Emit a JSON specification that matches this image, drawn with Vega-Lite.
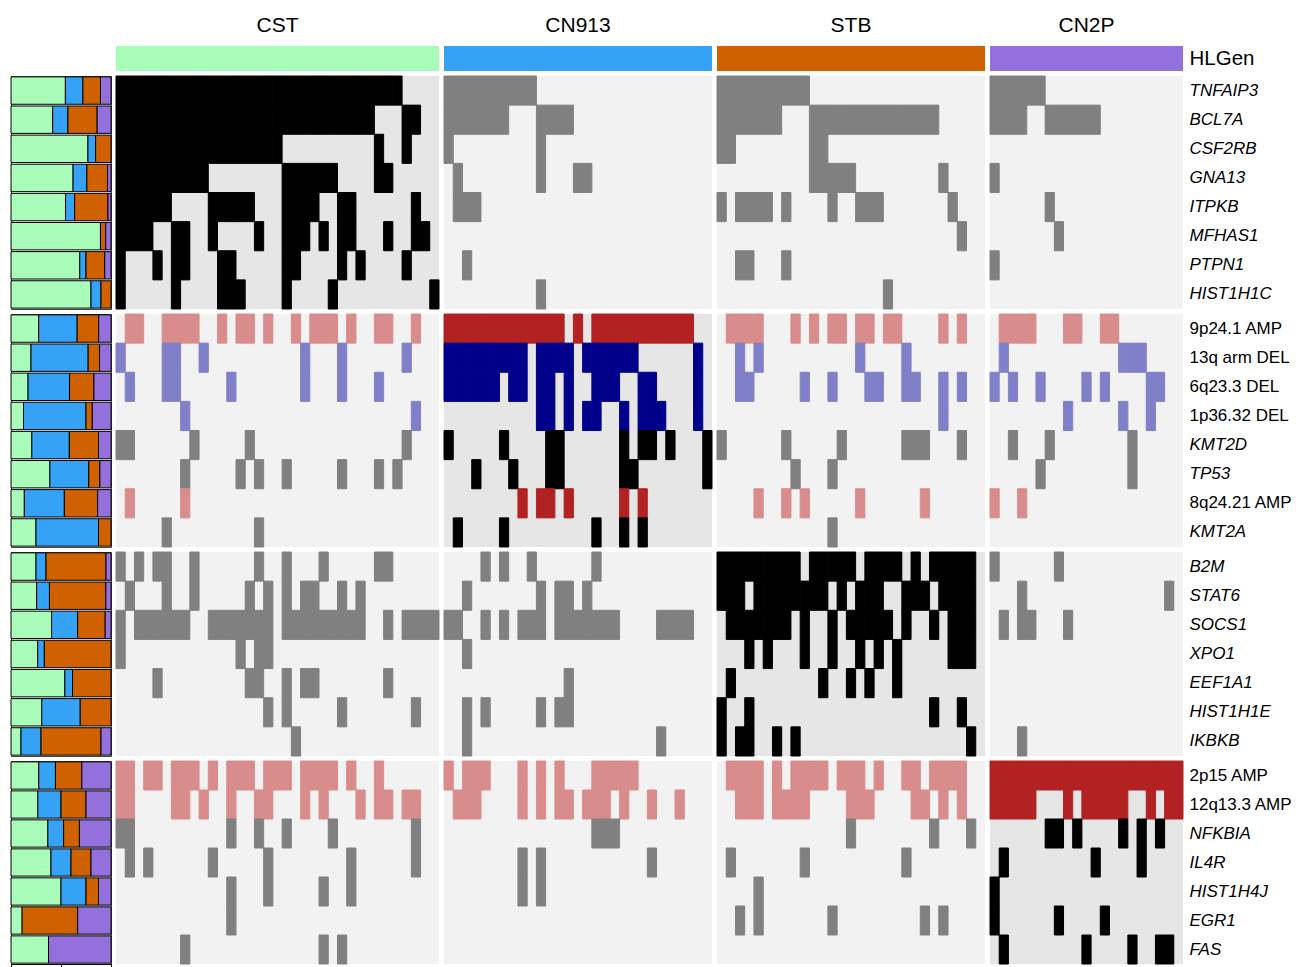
{
"$schema":"https://vega.github.io/schema/vega-lite/v6.json",
"padding":{"left":10,"top":15,"right":0,"bottom":0},
"config":{"view":{"stroke":null},"font":"Liberation Sans","rect":{"strokeWidth":1}},
"datasets":{
"cna":[{"g":"9p24.1 AMP","t":"Amp"},{"g":"8q24.21 AMP","t":"Amp"},{"g":"2p15 AMP","t":"Amp"},{"g":"12q13.3 AMP","t":"Amp"},{"g":"13q arm DEL","t":"Del"},{"g":"6q23.3 DEL","t":"Del"},{"g":"1p36.32 DEL","t":"Del"}],
"clusters":[{"c":"CST","k":0},{"c":"CN913","k":1},{"c":"STB","k":2},{"c":"CN2P","k":3}],
"cells":[
{"c":"CST","g":"TNFAIP3","s":1},{"c":"CST","g":"TNFAIP3","s":2},{"c":"CST","g":"TNFAIP3","s":3},{"c":"CST","g":"TNFAIP3","s":4},{"c":"CST","g":"TNFAIP3","s":5},{"c":"CST","g":"TNFAIP3","s":6},{"c":"CST","g":"TNFAIP3","s":7},{"c":"CST","g":"TNFAIP3","s":8},{"c":"CST","g":"TNFAIP3","s":9},{"c":"CST","g":"TNFAIP3","s":10},{"c":"CST","g":"TNFAIP3","s":11},{"c":"CST","g":"TNFAIP3","s":12},{"c":"CST","g":"TNFAIP3","s":13},{"c":"CST","g":"TNFAIP3","s":14},{"c":"CST","g":"TNFAIP3","s":15},{"c":"CST","g":"TNFAIP3","s":16},{"c":"CST","g":"TNFAIP3","s":17},{"c":"CST","g":"TNFAIP3","s":18},{"c":"CST","g":"TNFAIP3","s":19},{"c":"CST","g":"TNFAIP3","s":20},{"c":"CST","g":"TNFAIP3","s":21},{"c":"CST","g":"TNFAIP3","s":22},{"c":"CST","g":"TNFAIP3","s":23},{"c":"CST","g":"TNFAIP3","s":24},{"c":"CST","g":"TNFAIP3","s":25},{"c":"CST","g":"TNFAIP3","s":26},{"c":"CST","g":"TNFAIP3","s":27},{"c":"CST","g":"TNFAIP3","s":28},{"c":"CST","g":"TNFAIP3","s":29},{"c":"CST","g":"TNFAIP3","s":30},{"c":"CST","g":"TNFAIP3","s":31},
{"c":"CST","g":"BCL7A","s":1},{"c":"CST","g":"BCL7A","s":2},{"c":"CST","g":"BCL7A","s":3},{"c":"CST","g":"BCL7A","s":4},{"c":"CST","g":"BCL7A","s":5},{"c":"CST","g":"BCL7A","s":6},{"c":"CST","g":"BCL7A","s":7},{"c":"CST","g":"BCL7A","s":8},{"c":"CST","g":"BCL7A","s":9},{"c":"CST","g":"BCL7A","s":10},{"c":"CST","g":"BCL7A","s":11},{"c":"CST","g":"BCL7A","s":12},{"c":"CST","g":"BCL7A","s":13},{"c":"CST","g":"BCL7A","s":14},{"c":"CST","g":"BCL7A","s":15},{"c":"CST","g":"BCL7A","s":16},{"c":"CST","g":"BCL7A","s":17},{"c":"CST","g":"BCL7A","s":18},{"c":"CST","g":"BCL7A","s":19},{"c":"CST","g":"BCL7A","s":20},{"c":"CST","g":"BCL7A","s":21},{"c":"CST","g":"BCL7A","s":22},{"c":"CST","g":"BCL7A","s":23},{"c":"CST","g":"BCL7A","s":24},{"c":"CST","g":"BCL7A","s":25},{"c":"CST","g":"BCL7A","s":26},{"c":"CST","g":"BCL7A","s":27},{"c":"CST","g":"BCL7A","s":28},{"c":"CST","g":"BCL7A","s":32},{"c":"CST","g":"BCL7A","s":33},
{"c":"CST","g":"CSF2RB","s":1},{"c":"CST","g":"CSF2RB","s":2},{"c":"CST","g":"CSF2RB","s":3},{"c":"CST","g":"CSF2RB","s":4},{"c":"CST","g":"CSF2RB","s":5},{"c":"CST","g":"CSF2RB","s":6},{"c":"CST","g":"CSF2RB","s":7},{"c":"CST","g":"CSF2RB","s":8},{"c":"CST","g":"CSF2RB","s":9},{"c":"CST","g":"CSF2RB","s":10},{"c":"CST","g":"CSF2RB","s":11},{"c":"CST","g":"CSF2RB","s":12},{"c":"CST","g":"CSF2RB","s":13},{"c":"CST","g":"CSF2RB","s":14},{"c":"CST","g":"CSF2RB","s":15},{"c":"CST","g":"CSF2RB","s":16},{"c":"CST","g":"CSF2RB","s":17},{"c":"CST","g":"CSF2RB","s":18},{"c":"CST","g":"CSF2RB","s":29},{"c":"CST","g":"CSF2RB","s":32},
{"c":"CST","g":"GNA13","s":1},{"c":"CST","g":"GNA13","s":2},{"c":"CST","g":"GNA13","s":3},{"c":"CST","g":"GNA13","s":4},{"c":"CST","g":"GNA13","s":5},{"c":"CST","g":"GNA13","s":6},{"c":"CST","g":"GNA13","s":7},{"c":"CST","g":"GNA13","s":8},{"c":"CST","g":"GNA13","s":9},{"c":"CST","g":"GNA13","s":10},{"c":"CST","g":"GNA13","s":19},{"c":"CST","g":"GNA13","s":20},{"c":"CST","g":"GNA13","s":21},{"c":"CST","g":"GNA13","s":22},{"c":"CST","g":"GNA13","s":23},{"c":"CST","g":"GNA13","s":24},{"c":"CST","g":"GNA13","s":29},{"c":"CST","g":"GNA13","s":30},
{"c":"CST","g":"ITPKB","s":1},{"c":"CST","g":"ITPKB","s":2},{"c":"CST","g":"ITPKB","s":3},{"c":"CST","g":"ITPKB","s":4},{"c":"CST","g":"ITPKB","s":5},{"c":"CST","g":"ITPKB","s":6},{"c":"CST","g":"ITPKB","s":11},{"c":"CST","g":"ITPKB","s":12},{"c":"CST","g":"ITPKB","s":13},{"c":"CST","g":"ITPKB","s":14},{"c":"CST","g":"ITPKB","s":15},{"c":"CST","g":"ITPKB","s":19},{"c":"CST","g":"ITPKB","s":20},{"c":"CST","g":"ITPKB","s":21},{"c":"CST","g":"ITPKB","s":22},{"c":"CST","g":"ITPKB","s":25},{"c":"CST","g":"ITPKB","s":26},{"c":"CST","g":"ITPKB","s":33},
{"c":"CST","g":"MFHAS1","s":1},{"c":"CST","g":"MFHAS1","s":2},{"c":"CST","g":"MFHAS1","s":3},{"c":"CST","g":"MFHAS1","s":4},{"c":"CST","g":"MFHAS1","s":7},{"c":"CST","g":"MFHAS1","s":8},{"c":"CST","g":"MFHAS1","s":11},{"c":"CST","g":"MFHAS1","s":16},{"c":"CST","g":"MFHAS1","s":19},{"c":"CST","g":"MFHAS1","s":20},{"c":"CST","g":"MFHAS1","s":21},{"c":"CST","g":"MFHAS1","s":23},{"c":"CST","g":"MFHAS1","s":25},{"c":"CST","g":"MFHAS1","s":26},{"c":"CST","g":"MFHAS1","s":30},{"c":"CST","g":"MFHAS1","s":33},{"c":"CST","g":"MFHAS1","s":34},
{"c":"CST","g":"PTPN1","s":1},{"c":"CST","g":"PTPN1","s":5},{"c":"CST","g":"PTPN1","s":7},{"c":"CST","g":"PTPN1","s":8},{"c":"CST","g":"PTPN1","s":12},{"c":"CST","g":"PTPN1","s":13},{"c":"CST","g":"PTPN1","s":19},{"c":"CST","g":"PTPN1","s":20},{"c":"CST","g":"PTPN1","s":25},{"c":"CST","g":"PTPN1","s":27},{"c":"CST","g":"PTPN1","s":32},
{"c":"CST","g":"HIST1H1C","s":1},{"c":"CST","g":"HIST1H1C","s":7},{"c":"CST","g":"HIST1H1C","s":12},{"c":"CST","g":"HIST1H1C","s":13},{"c":"CST","g":"HIST1H1C","s":14},{"c":"CST","g":"HIST1H1C","s":19},{"c":"CST","g":"HIST1H1C","s":24},{"c":"CST","g":"HIST1H1C","s":35},
{"c":"CST","g":"9p24.1 AMP","s":2},{"c":"CST","g":"9p24.1 AMP","s":3},{"c":"CST","g":"9p24.1 AMP","s":6},{"c":"CST","g":"9p24.1 AMP","s":7},{"c":"CST","g":"9p24.1 AMP","s":8},{"c":"CST","g":"9p24.1 AMP","s":9},{"c":"CST","g":"9p24.1 AMP","s":12},{"c":"CST","g":"9p24.1 AMP","s":14},{"c":"CST","g":"9p24.1 AMP","s":15},{"c":"CST","g":"9p24.1 AMP","s":17},{"c":"CST","g":"9p24.1 AMP","s":20},{"c":"CST","g":"9p24.1 AMP","s":22},{"c":"CST","g":"9p24.1 AMP","s":23},{"c":"CST","g":"9p24.1 AMP","s":24},{"c":"CST","g":"9p24.1 AMP","s":26},{"c":"CST","g":"9p24.1 AMP","s":29},{"c":"CST","g":"9p24.1 AMP","s":30},{"c":"CST","g":"9p24.1 AMP","s":33},
{"c":"CST","g":"13q arm DEL","s":1},{"c":"CST","g":"13q arm DEL","s":6},{"c":"CST","g":"13q arm DEL","s":7},{"c":"CST","g":"13q arm DEL","s":10},{"c":"CST","g":"13q arm DEL","s":21},{"c":"CST","g":"13q arm DEL","s":25},{"c":"CST","g":"13q arm DEL","s":32},
{"c":"CST","g":"6q23.3 DEL","s":2},{"c":"CST","g":"6q23.3 DEL","s":6},{"c":"CST","g":"6q23.3 DEL","s":7},{"c":"CST","g":"6q23.3 DEL","s":13},{"c":"CST","g":"6q23.3 DEL","s":21},{"c":"CST","g":"6q23.3 DEL","s":25},{"c":"CST","g":"6q23.3 DEL","s":29},
{"c":"CST","g":"1p36.32 DEL","s":8},{"c":"CST","g":"1p36.32 DEL","s":33},
{"c":"CST","g":"KMT2D","s":1},{"c":"CST","g":"KMT2D","s":2},{"c":"CST","g":"KMT2D","s":9},{"c":"CST","g":"KMT2D","s":15},{"c":"CST","g":"KMT2D","s":32},
{"c":"CST","g":"TP53","s":8},{"c":"CST","g":"TP53","s":14},{"c":"CST","g":"TP53","s":16},{"c":"CST","g":"TP53","s":19},{"c":"CST","g":"TP53","s":25},{"c":"CST","g":"TP53","s":29},{"c":"CST","g":"TP53","s":31},
{"c":"CST","g":"8q24.21 AMP","s":2},{"c":"CST","g":"8q24.21 AMP","s":8},
{"c":"CST","g":"KMT2A","s":6},{"c":"CST","g":"KMT2A","s":16},
{"c":"CST","g":"B2M","s":1},{"c":"CST","g":"B2M","s":3},{"c":"CST","g":"B2M","s":5},{"c":"CST","g":"B2M","s":6},{"c":"CST","g":"B2M","s":9},{"c":"CST","g":"B2M","s":16},{"c":"CST","g":"B2M","s":19},{"c":"CST","g":"B2M","s":23},{"c":"CST","g":"B2M","s":29},{"c":"CST","g":"B2M","s":30},
{"c":"CST","g":"STAT6","s":2},{"c":"CST","g":"STAT6","s":6},{"c":"CST","g":"STAT6","s":9},{"c":"CST","g":"STAT6","s":15},{"c":"CST","g":"STAT6","s":17},{"c":"CST","g":"STAT6","s":19},{"c":"CST","g":"STAT6","s":21},{"c":"CST","g":"STAT6","s":22},{"c":"CST","g":"STAT6","s":25},{"c":"CST","g":"STAT6","s":27},
{"c":"CST","g":"SOCS1","s":1},{"c":"CST","g":"SOCS1","s":3},{"c":"CST","g":"SOCS1","s":4},{"c":"CST","g":"SOCS1","s":5},{"c":"CST","g":"SOCS1","s":6},{"c":"CST","g":"SOCS1","s":7},{"c":"CST","g":"SOCS1","s":8},{"c":"CST","g":"SOCS1","s":11},{"c":"CST","g":"SOCS1","s":12},{"c":"CST","g":"SOCS1","s":13},{"c":"CST","g":"SOCS1","s":14},{"c":"CST","g":"SOCS1","s":15},{"c":"CST","g":"SOCS1","s":16},{"c":"CST","g":"SOCS1","s":17},{"c":"CST","g":"SOCS1","s":19},{"c":"CST","g":"SOCS1","s":20},{"c":"CST","g":"SOCS1","s":21},{"c":"CST","g":"SOCS1","s":22},{"c":"CST","g":"SOCS1","s":23},{"c":"CST","g":"SOCS1","s":24},{"c":"CST","g":"SOCS1","s":25},{"c":"CST","g":"SOCS1","s":26},{"c":"CST","g":"SOCS1","s":27},{"c":"CST","g":"SOCS1","s":30},{"c":"CST","g":"SOCS1","s":32},{"c":"CST","g":"SOCS1","s":33},{"c":"CST","g":"SOCS1","s":34},{"c":"CST","g":"SOCS1","s":35},
{"c":"CST","g":"XPO1","s":1},{"c":"CST","g":"XPO1","s":14},{"c":"CST","g":"XPO1","s":16},{"c":"CST","g":"XPO1","s":17},
{"c":"CST","g":"EEF1A1","s":5},{"c":"CST","g":"EEF1A1","s":15},{"c":"CST","g":"EEF1A1","s":16},{"c":"CST","g":"EEF1A1","s":19},{"c":"CST","g":"EEF1A1","s":21},{"c":"CST","g":"EEF1A1","s":22},{"c":"CST","g":"EEF1A1","s":30},
{"c":"CST","g":"HIST1H1E","s":17},{"c":"CST","g":"HIST1H1E","s":19},{"c":"CST","g":"HIST1H1E","s":25},{"c":"CST","g":"HIST1H1E","s":33},
{"c":"CST","g":"IKBKB","s":20},
{"c":"CST","g":"2p15 AMP","s":1},{"c":"CST","g":"2p15 AMP","s":2},{"c":"CST","g":"2p15 AMP","s":4},{"c":"CST","g":"2p15 AMP","s":5},{"c":"CST","g":"2p15 AMP","s":7},{"c":"CST","g":"2p15 AMP","s":8},{"c":"CST","g":"2p15 AMP","s":9},{"c":"CST","g":"2p15 AMP","s":11},{"c":"CST","g":"2p15 AMP","s":13},{"c":"CST","g":"2p15 AMP","s":14},{"c":"CST","g":"2p15 AMP","s":15},{"c":"CST","g":"2p15 AMP","s":17},{"c":"CST","g":"2p15 AMP","s":18},{"c":"CST","g":"2p15 AMP","s":19},{"c":"CST","g":"2p15 AMP","s":21},{"c":"CST","g":"2p15 AMP","s":22},{"c":"CST","g":"2p15 AMP","s":23},{"c":"CST","g":"2p15 AMP","s":24},{"c":"CST","g":"2p15 AMP","s":26},{"c":"CST","g":"2p15 AMP","s":29},
{"c":"CST","g":"12q13.3 AMP","s":1},{"c":"CST","g":"12q13.3 AMP","s":2},{"c":"CST","g":"12q13.3 AMP","s":7},{"c":"CST","g":"12q13.3 AMP","s":8},{"c":"CST","g":"12q13.3 AMP","s":10},{"c":"CST","g":"12q13.3 AMP","s":13},{"c":"CST","g":"12q13.3 AMP","s":16},{"c":"CST","g":"12q13.3 AMP","s":17},{"c":"CST","g":"12q13.3 AMP","s":21},{"c":"CST","g":"12q13.3 AMP","s":23},{"c":"CST","g":"12q13.3 AMP","s":27},{"c":"CST","g":"12q13.3 AMP","s":29},{"c":"CST","g":"12q13.3 AMP","s":30},{"c":"CST","g":"12q13.3 AMP","s":32},{"c":"CST","g":"12q13.3 AMP","s":33},
{"c":"CST","g":"NFKBIA","s":1},{"c":"CST","g":"NFKBIA","s":2},{"c":"CST","g":"NFKBIA","s":13},{"c":"CST","g":"NFKBIA","s":16},{"c":"CST","g":"NFKBIA","s":19},{"c":"CST","g":"NFKBIA","s":24},{"c":"CST","g":"NFKBIA","s":33},
{"c":"CST","g":"IL4R","s":2},{"c":"CST","g":"IL4R","s":4},{"c":"CST","g":"IL4R","s":11},{"c":"CST","g":"IL4R","s":17},{"c":"CST","g":"IL4R","s":26},{"c":"CST","g":"IL4R","s":33},
{"c":"CST","g":"HIST1H4J","s":13},{"c":"CST","g":"HIST1H4J","s":17},{"c":"CST","g":"HIST1H4J","s":23},{"c":"CST","g":"HIST1H4J","s":26},
{"c":"CST","g":"EGR1","s":13},
{"c":"CST","g":"FAS","s":8},{"c":"CST","g":"FAS","s":23},{"c":"CST","g":"FAS","s":25},
{"c":"CN913","g":"TNFAIP3","s":1},{"c":"CN913","g":"TNFAIP3","s":2},{"c":"CN913","g":"TNFAIP3","s":3},{"c":"CN913","g":"TNFAIP3","s":4},{"c":"CN913","g":"TNFAIP3","s":5},{"c":"CN913","g":"TNFAIP3","s":6},{"c":"CN913","g":"TNFAIP3","s":7},{"c":"CN913","g":"TNFAIP3","s":8},{"c":"CN913","g":"TNFAIP3","s":9},{"c":"CN913","g":"TNFAIP3","s":10},
{"c":"CN913","g":"BCL7A","s":1},{"c":"CN913","g":"BCL7A","s":2},{"c":"CN913","g":"BCL7A","s":3},{"c":"CN913","g":"BCL7A","s":4},{"c":"CN913","g":"BCL7A","s":5},{"c":"CN913","g":"BCL7A","s":6},{"c":"CN913","g":"BCL7A","s":7},{"c":"CN913","g":"BCL7A","s":11},{"c":"CN913","g":"BCL7A","s":12},{"c":"CN913","g":"BCL7A","s":13},{"c":"CN913","g":"BCL7A","s":14},
{"c":"CN913","g":"CSF2RB","s":1},{"c":"CN913","g":"CSF2RB","s":11},
{"c":"CN913","g":"GNA13","s":2},{"c":"CN913","g":"GNA13","s":11},{"c":"CN913","g":"GNA13","s":15},{"c":"CN913","g":"GNA13","s":16},
{"c":"CN913","g":"ITPKB","s":2},{"c":"CN913","g":"ITPKB","s":3},{"c":"CN913","g":"ITPKB","s":4},
{"c":"CN913","g":"PTPN1","s":3},
{"c":"CN913","g":"HIST1H1C","s":11},
{"c":"CN913","g":"9p24.1 AMP","s":1},{"c":"CN913","g":"9p24.1 AMP","s":2},{"c":"CN913","g":"9p24.1 AMP","s":3},{"c":"CN913","g":"9p24.1 AMP","s":4},{"c":"CN913","g":"9p24.1 AMP","s":5},{"c":"CN913","g":"9p24.1 AMP","s":6},{"c":"CN913","g":"9p24.1 AMP","s":7},{"c":"CN913","g":"9p24.1 AMP","s":8},{"c":"CN913","g":"9p24.1 AMP","s":9},{"c":"CN913","g":"9p24.1 AMP","s":10},{"c":"CN913","g":"9p24.1 AMP","s":11},{"c":"CN913","g":"9p24.1 AMP","s":12},{"c":"CN913","g":"9p24.1 AMP","s":13},{"c":"CN913","g":"9p24.1 AMP","s":15},{"c":"CN913","g":"9p24.1 AMP","s":17},{"c":"CN913","g":"9p24.1 AMP","s":18},{"c":"CN913","g":"9p24.1 AMP","s":19},{"c":"CN913","g":"9p24.1 AMP","s":20},{"c":"CN913","g":"9p24.1 AMP","s":21},{"c":"CN913","g":"9p24.1 AMP","s":22},{"c":"CN913","g":"9p24.1 AMP","s":23},{"c":"CN913","g":"9p24.1 AMP","s":24},{"c":"CN913","g":"9p24.1 AMP","s":25},{"c":"CN913","g":"9p24.1 AMP","s":26},{"c":"CN913","g":"9p24.1 AMP","s":27},
{"c":"CN913","g":"13q arm DEL","s":1},{"c":"CN913","g":"13q arm DEL","s":2},{"c":"CN913","g":"13q arm DEL","s":3},{"c":"CN913","g":"13q arm DEL","s":4},{"c":"CN913","g":"13q arm DEL","s":5},{"c":"CN913","g":"13q arm DEL","s":6},{"c":"CN913","g":"13q arm DEL","s":7},{"c":"CN913","g":"13q arm DEL","s":8},{"c":"CN913","g":"13q arm DEL","s":9},{"c":"CN913","g":"13q arm DEL","s":11},{"c":"CN913","g":"13q arm DEL","s":12},{"c":"CN913","g":"13q arm DEL","s":13},{"c":"CN913","g":"13q arm DEL","s":14},{"c":"CN913","g":"13q arm DEL","s":16},{"c":"CN913","g":"13q arm DEL","s":17},{"c":"CN913","g":"13q arm DEL","s":18},{"c":"CN913","g":"13q arm DEL","s":19},{"c":"CN913","g":"13q arm DEL","s":20},{"c":"CN913","g":"13q arm DEL","s":21},{"c":"CN913","g":"13q arm DEL","s":28},
{"c":"CN913","g":"6q23.3 DEL","s":1},{"c":"CN913","g":"6q23.3 DEL","s":2},{"c":"CN913","g":"6q23.3 DEL","s":3},{"c":"CN913","g":"6q23.3 DEL","s":4},{"c":"CN913","g":"6q23.3 DEL","s":5},{"c":"CN913","g":"6q23.3 DEL","s":6},{"c":"CN913","g":"6q23.3 DEL","s":8},{"c":"CN913","g":"6q23.3 DEL","s":9},{"c":"CN913","g":"6q23.3 DEL","s":11},{"c":"CN913","g":"6q23.3 DEL","s":12},{"c":"CN913","g":"6q23.3 DEL","s":14},{"c":"CN913","g":"6q23.3 DEL","s":17},{"c":"CN913","g":"6q23.3 DEL","s":18},{"c":"CN913","g":"6q23.3 DEL","s":19},{"c":"CN913","g":"6q23.3 DEL","s":22},{"c":"CN913","g":"6q23.3 DEL","s":23},{"c":"CN913","g":"6q23.3 DEL","s":28},
{"c":"CN913","g":"1p36.32 DEL","s":11},{"c":"CN913","g":"1p36.32 DEL","s":12},{"c":"CN913","g":"1p36.32 DEL","s":14},{"c":"CN913","g":"1p36.32 DEL","s":16},{"c":"CN913","g":"1p36.32 DEL","s":17},{"c":"CN913","g":"1p36.32 DEL","s":20},{"c":"CN913","g":"1p36.32 DEL","s":22},{"c":"CN913","g":"1p36.32 DEL","s":23},{"c":"CN913","g":"1p36.32 DEL","s":24},{"c":"CN913","g":"1p36.32 DEL","s":28},
{"c":"CN913","g":"KMT2D","s":1},{"c":"CN913","g":"KMT2D","s":7},{"c":"CN913","g":"KMT2D","s":12},{"c":"CN913","g":"KMT2D","s":13},{"c":"CN913","g":"KMT2D","s":20},{"c":"CN913","g":"KMT2D","s":22},{"c":"CN913","g":"KMT2D","s":23},{"c":"CN913","g":"KMT2D","s":25},{"c":"CN913","g":"KMT2D","s":29},
{"c":"CN913","g":"TP53","s":4},{"c":"CN913","g":"TP53","s":8},{"c":"CN913","g":"TP53","s":12},{"c":"CN913","g":"TP53","s":13},{"c":"CN913","g":"TP53","s":20},{"c":"CN913","g":"TP53","s":21},{"c":"CN913","g":"TP53","s":29},
{"c":"CN913","g":"8q24.21 AMP","s":9},{"c":"CN913","g":"8q24.21 AMP","s":11},{"c":"CN913","g":"8q24.21 AMP","s":12},{"c":"CN913","g":"8q24.21 AMP","s":14},{"c":"CN913","g":"8q24.21 AMP","s":20},{"c":"CN913","g":"8q24.21 AMP","s":22},
{"c":"CN913","g":"KMT2A","s":2},{"c":"CN913","g":"KMT2A","s":7},{"c":"CN913","g":"KMT2A","s":17},{"c":"CN913","g":"KMT2A","s":20},{"c":"CN913","g":"KMT2A","s":22},
{"c":"CN913","g":"B2M","s":5},{"c":"CN913","g":"B2M","s":7},{"c":"CN913","g":"B2M","s":10},{"c":"CN913","g":"B2M","s":17},
{"c":"CN913","g":"STAT6","s":3},{"c":"CN913","g":"STAT6","s":11},{"c":"CN913","g":"STAT6","s":13},{"c":"CN913","g":"STAT6","s":14},{"c":"CN913","g":"STAT6","s":16},
{"c":"CN913","g":"SOCS1","s":1},{"c":"CN913","g":"SOCS1","s":2},{"c":"CN913","g":"SOCS1","s":5},{"c":"CN913","g":"SOCS1","s":7},{"c":"CN913","g":"SOCS1","s":9},{"c":"CN913","g":"SOCS1","s":10},{"c":"CN913","g":"SOCS1","s":11},{"c":"CN913","g":"SOCS1","s":13},{"c":"CN913","g":"SOCS1","s":14},{"c":"CN913","g":"SOCS1","s":15},{"c":"CN913","g":"SOCS1","s":16},{"c":"CN913","g":"SOCS1","s":17},{"c":"CN913","g":"SOCS1","s":18},{"c":"CN913","g":"SOCS1","s":19},{"c":"CN913","g":"SOCS1","s":24},{"c":"CN913","g":"SOCS1","s":25},{"c":"CN913","g":"SOCS1","s":26},{"c":"CN913","g":"SOCS1","s":27},
{"c":"CN913","g":"XPO1","s":3},
{"c":"CN913","g":"EEF1A1","s":14},
{"c":"CN913","g":"HIST1H1E","s":3},{"c":"CN913","g":"HIST1H1E","s":5},{"c":"CN913","g":"HIST1H1E","s":11},{"c":"CN913","g":"HIST1H1E","s":13},{"c":"CN913","g":"HIST1H1E","s":14},
{"c":"CN913","g":"IKBKB","s":3},{"c":"CN913","g":"IKBKB","s":24},
{"c":"CN913","g":"2p15 AMP","s":1},{"c":"CN913","g":"2p15 AMP","s":3},{"c":"CN913","g":"2p15 AMP","s":4},{"c":"CN913","g":"2p15 AMP","s":5},{"c":"CN913","g":"2p15 AMP","s":9},{"c":"CN913","g":"2p15 AMP","s":11},{"c":"CN913","g":"2p15 AMP","s":13},{"c":"CN913","g":"2p15 AMP","s":17},{"c":"CN913","g":"2p15 AMP","s":18},{"c":"CN913","g":"2p15 AMP","s":19},{"c":"CN913","g":"2p15 AMP","s":20},{"c":"CN913","g":"2p15 AMP","s":21},
{"c":"CN913","g":"12q13.3 AMP","s":2},{"c":"CN913","g":"12q13.3 AMP","s":3},{"c":"CN913","g":"12q13.3 AMP","s":4},{"c":"CN913","g":"12q13.3 AMP","s":9},{"c":"CN913","g":"12q13.3 AMP","s":11},{"c":"CN913","g":"12q13.3 AMP","s":13},{"c":"CN913","g":"12q13.3 AMP","s":14},{"c":"CN913","g":"12q13.3 AMP","s":16},{"c":"CN913","g":"12q13.3 AMP","s":17},{"c":"CN913","g":"12q13.3 AMP","s":18},{"c":"CN913","g":"12q13.3 AMP","s":20},{"c":"CN913","g":"12q13.3 AMP","s":23},{"c":"CN913","g":"12q13.3 AMP","s":26},
{"c":"CN913","g":"NFKBIA","s":17},{"c":"CN913","g":"NFKBIA","s":18},{"c":"CN913","g":"NFKBIA","s":19},
{"c":"CN913","g":"IL4R","s":9},{"c":"CN913","g":"IL4R","s":11},{"c":"CN913","g":"IL4R","s":23},
{"c":"CN913","g":"HIST1H4J","s":9},{"c":"CN913","g":"HIST1H4J","s":11},
{"c":"STB","g":"TNFAIP3","s":1},{"c":"STB","g":"TNFAIP3","s":2},{"c":"STB","g":"TNFAIP3","s":3},{"c":"STB","g":"TNFAIP3","s":4},{"c":"STB","g":"TNFAIP3","s":5},{"c":"STB","g":"TNFAIP3","s":6},{"c":"STB","g":"TNFAIP3","s":7},{"c":"STB","g":"TNFAIP3","s":8},{"c":"STB","g":"TNFAIP3","s":9},{"c":"STB","g":"TNFAIP3","s":10},
{"c":"STB","g":"BCL7A","s":1},{"c":"STB","g":"BCL7A","s":2},{"c":"STB","g":"BCL7A","s":3},{"c":"STB","g":"BCL7A","s":4},{"c":"STB","g":"BCL7A","s":5},{"c":"STB","g":"BCL7A","s":6},{"c":"STB","g":"BCL7A","s":7},{"c":"STB","g":"BCL7A","s":11},{"c":"STB","g":"BCL7A","s":12},{"c":"STB","g":"BCL7A","s":13},{"c":"STB","g":"BCL7A","s":14},{"c":"STB","g":"BCL7A","s":15},{"c":"STB","g":"BCL7A","s":16},{"c":"STB","g":"BCL7A","s":17},{"c":"STB","g":"BCL7A","s":18},{"c":"STB","g":"BCL7A","s":19},{"c":"STB","g":"BCL7A","s":20},{"c":"STB","g":"BCL7A","s":21},{"c":"STB","g":"BCL7A","s":22},{"c":"STB","g":"BCL7A","s":23},{"c":"STB","g":"BCL7A","s":24},
{"c":"STB","g":"CSF2RB","s":1},{"c":"STB","g":"CSF2RB","s":2},{"c":"STB","g":"CSF2RB","s":11},{"c":"STB","g":"CSF2RB","s":12},
{"c":"STB","g":"GNA13","s":11},{"c":"STB","g":"GNA13","s":12},{"c":"STB","g":"GNA13","s":13},{"c":"STB","g":"GNA13","s":14},{"c":"STB","g":"GNA13","s":15},{"c":"STB","g":"GNA13","s":25},
{"c":"STB","g":"ITPKB","s":1},{"c":"STB","g":"ITPKB","s":3},{"c":"STB","g":"ITPKB","s":4},{"c":"STB","g":"ITPKB","s":5},{"c":"STB","g":"ITPKB","s":6},{"c":"STB","g":"ITPKB","s":8},{"c":"STB","g":"ITPKB","s":13},{"c":"STB","g":"ITPKB","s":16},{"c":"STB","g":"ITPKB","s":17},{"c":"STB","g":"ITPKB","s":18},{"c":"STB","g":"ITPKB","s":26},
{"c":"STB","g":"MFHAS1","s":27},
{"c":"STB","g":"PTPN1","s":3},{"c":"STB","g":"PTPN1","s":4},{"c":"STB","g":"PTPN1","s":8},
{"c":"STB","g":"HIST1H1C","s":19},
{"c":"STB","g":"9p24.1 AMP","s":2},{"c":"STB","g":"9p24.1 AMP","s":3},{"c":"STB","g":"9p24.1 AMP","s":4},{"c":"STB","g":"9p24.1 AMP","s":5},{"c":"STB","g":"9p24.1 AMP","s":9},{"c":"STB","g":"9p24.1 AMP","s":11},{"c":"STB","g":"9p24.1 AMP","s":13},{"c":"STB","g":"9p24.1 AMP","s":14},{"c":"STB","g":"9p24.1 AMP","s":16},{"c":"STB","g":"9p24.1 AMP","s":17},{"c":"STB","g":"9p24.1 AMP","s":19},{"c":"STB","g":"9p24.1 AMP","s":20},{"c":"STB","g":"9p24.1 AMP","s":25},{"c":"STB","g":"9p24.1 AMP","s":27},
{"c":"STB","g":"13q arm DEL","s":3},{"c":"STB","g":"13q arm DEL","s":5},{"c":"STB","g":"13q arm DEL","s":16},{"c":"STB","g":"13q arm DEL","s":21},
{"c":"STB","g":"6q23.3 DEL","s":3},{"c":"STB","g":"6q23.3 DEL","s":4},{"c":"STB","g":"6q23.3 DEL","s":10},{"c":"STB","g":"6q23.3 DEL","s":13},{"c":"STB","g":"6q23.3 DEL","s":17},{"c":"STB","g":"6q23.3 DEL","s":18},{"c":"STB","g":"6q23.3 DEL","s":21},{"c":"STB","g":"6q23.3 DEL","s":22},{"c":"STB","g":"6q23.3 DEL","s":25},{"c":"STB","g":"6q23.3 DEL","s":27},
{"c":"STB","g":"1p36.32 DEL","s":25},
{"c":"STB","g":"KMT2D","s":1},{"c":"STB","g":"KMT2D","s":8},{"c":"STB","g":"KMT2D","s":14},{"c":"STB","g":"KMT2D","s":21},{"c":"STB","g":"KMT2D","s":22},{"c":"STB","g":"KMT2D","s":23},{"c":"STB","g":"KMT2D","s":27},
{"c":"STB","g":"TP53","s":9},{"c":"STB","g":"TP53","s":13},
{"c":"STB","g":"8q24.21 AMP","s":5},{"c":"STB","g":"8q24.21 AMP","s":8},{"c":"STB","g":"8q24.21 AMP","s":10},{"c":"STB","g":"8q24.21 AMP","s":16},{"c":"STB","g":"8q24.21 AMP","s":23},
{"c":"STB","g":"KMT2A","s":13},
{"c":"STB","g":"B2M","s":1},{"c":"STB","g":"B2M","s":2},{"c":"STB","g":"B2M","s":3},{"c":"STB","g":"B2M","s":4},{"c":"STB","g":"B2M","s":5},{"c":"STB","g":"B2M","s":6},{"c":"STB","g":"B2M","s":7},{"c":"STB","g":"B2M","s":8},{"c":"STB","g":"B2M","s":9},{"c":"STB","g":"B2M","s":11},{"c":"STB","g":"B2M","s":12},{"c":"STB","g":"B2M","s":13},{"c":"STB","g":"B2M","s":14},{"c":"STB","g":"B2M","s":15},{"c":"STB","g":"B2M","s":17},{"c":"STB","g":"B2M","s":18},{"c":"STB","g":"B2M","s":19},{"c":"STB","g":"B2M","s":20},{"c":"STB","g":"B2M","s":22},{"c":"STB","g":"B2M","s":24},{"c":"STB","g":"B2M","s":25},{"c":"STB","g":"B2M","s":26},{"c":"STB","g":"B2M","s":27},{"c":"STB","g":"B2M","s":28},
{"c":"STB","g":"STAT6","s":1},{"c":"STB","g":"STAT6","s":2},{"c":"STB","g":"STAT6","s":3},{"c":"STB","g":"STAT6","s":5},{"c":"STB","g":"STAT6","s":6},{"c":"STB","g":"STAT6","s":7},{"c":"STB","g":"STAT6","s":8},{"c":"STB","g":"STAT6","s":9},{"c":"STB","g":"STAT6","s":10},{"c":"STB","g":"STAT6","s":11},{"c":"STB","g":"STAT6","s":12},{"c":"STB","g":"STAT6","s":14},{"c":"STB","g":"STAT6","s":16},{"c":"STB","g":"STAT6","s":17},{"c":"STB","g":"STAT6","s":18},{"c":"STB","g":"STAT6","s":21},{"c":"STB","g":"STAT6","s":22},{"c":"STB","g":"STAT6","s":23},{"c":"STB","g":"STAT6","s":25},{"c":"STB","g":"STAT6","s":26},{"c":"STB","g":"STAT6","s":27},{"c":"STB","g":"STAT6","s":28},
{"c":"STB","g":"SOCS1","s":2},{"c":"STB","g":"SOCS1","s":3},{"c":"STB","g":"SOCS1","s":4},{"c":"STB","g":"SOCS1","s":5},{"c":"STB","g":"SOCS1","s":6},{"c":"STB","g":"SOCS1","s":7},{"c":"STB","g":"SOCS1","s":8},{"c":"STB","g":"SOCS1","s":10},{"c":"STB","g":"SOCS1","s":13},{"c":"STB","g":"SOCS1","s":15},{"c":"STB","g":"SOCS1","s":16},{"c":"STB","g":"SOCS1","s":17},{"c":"STB","g":"SOCS1","s":18},{"c":"STB","g":"SOCS1","s":19},{"c":"STB","g":"SOCS1","s":21},{"c":"STB","g":"SOCS1","s":24},{"c":"STB","g":"SOCS1","s":26},{"c":"STB","g":"SOCS1","s":27},{"c":"STB","g":"SOCS1","s":28},
{"c":"STB","g":"XPO1","s":4},{"c":"STB","g":"XPO1","s":6},{"c":"STB","g":"XPO1","s":10},{"c":"STB","g":"XPO1","s":13},{"c":"STB","g":"XPO1","s":16},{"c":"STB","g":"XPO1","s":18},{"c":"STB","g":"XPO1","s":20},{"c":"STB","g":"XPO1","s":26},{"c":"STB","g":"XPO1","s":27},{"c":"STB","g":"XPO1","s":28},
{"c":"STB","g":"EEF1A1","s":2},{"c":"STB","g":"EEF1A1","s":12},{"c":"STB","g":"EEF1A1","s":15},{"c":"STB","g":"EEF1A1","s":17},{"c":"STB","g":"EEF1A1","s":20},
{"c":"STB","g":"HIST1H1E","s":1},{"c":"STB","g":"HIST1H1E","s":4},{"c":"STB","g":"HIST1H1E","s":24},{"c":"STB","g":"HIST1H1E","s":27},
{"c":"STB","g":"IKBKB","s":1},{"c":"STB","g":"IKBKB","s":3},{"c":"STB","g":"IKBKB","s":4},{"c":"STB","g":"IKBKB","s":7},{"c":"STB","g":"IKBKB","s":9},{"c":"STB","g":"IKBKB","s":28},
{"c":"STB","g":"2p15 AMP","s":2},{"c":"STB","g":"2p15 AMP","s":3},{"c":"STB","g":"2p15 AMP","s":4},{"c":"STB","g":"2p15 AMP","s":5},{"c":"STB","g":"2p15 AMP","s":7},{"c":"STB","g":"2p15 AMP","s":9},{"c":"STB","g":"2p15 AMP","s":10},{"c":"STB","g":"2p15 AMP","s":11},{"c":"STB","g":"2p15 AMP","s":12},{"c":"STB","g":"2p15 AMP","s":14},{"c":"STB","g":"2p15 AMP","s":15},{"c":"STB","g":"2p15 AMP","s":16},{"c":"STB","g":"2p15 AMP","s":18},{"c":"STB","g":"2p15 AMP","s":21},{"c":"STB","g":"2p15 AMP","s":22},{"c":"STB","g":"2p15 AMP","s":24},{"c":"STB","g":"2p15 AMP","s":25},{"c":"STB","g":"2p15 AMP","s":26},{"c":"STB","g":"2p15 AMP","s":27},
{"c":"STB","g":"12q13.3 AMP","s":3},{"c":"STB","g":"12q13.3 AMP","s":4},{"c":"STB","g":"12q13.3 AMP","s":5},{"c":"STB","g":"12q13.3 AMP","s":7},{"c":"STB","g":"12q13.3 AMP","s":8},{"c":"STB","g":"12q13.3 AMP","s":9},{"c":"STB","g":"12q13.3 AMP","s":10},{"c":"STB","g":"12q13.3 AMP","s":15},{"c":"STB","g":"12q13.3 AMP","s":16},{"c":"STB","g":"12q13.3 AMP","s":17},{"c":"STB","g":"12q13.3 AMP","s":22},{"c":"STB","g":"12q13.3 AMP","s":23},{"c":"STB","g":"12q13.3 AMP","s":25},{"c":"STB","g":"12q13.3 AMP","s":27},
{"c":"STB","g":"NFKBIA","s":15},{"c":"STB","g":"NFKBIA","s":24},{"c":"STB","g":"NFKBIA","s":28},
{"c":"STB","g":"IL4R","s":2},{"c":"STB","g":"IL4R","s":10},{"c":"STB","g":"IL4R","s":21},
{"c":"STB","g":"HIST1H4J","s":5},
{"c":"STB","g":"EGR1","s":3},{"c":"STB","g":"EGR1","s":5},{"c":"STB","g":"EGR1","s":13},{"c":"STB","g":"EGR1","s":23},{"c":"STB","g":"EGR1","s":25},
{"c":"CN2P","g":"TNFAIP3","s":1},{"c":"CN2P","g":"TNFAIP3","s":2},{"c":"CN2P","g":"TNFAIP3","s":3},{"c":"CN2P","g":"TNFAIP3","s":4},{"c":"CN2P","g":"TNFAIP3","s":5},{"c":"CN2P","g":"TNFAIP3","s":6},
{"c":"CN2P","g":"BCL7A","s":1},{"c":"CN2P","g":"BCL7A","s":2},{"c":"CN2P","g":"BCL7A","s":3},{"c":"CN2P","g":"BCL7A","s":4},{"c":"CN2P","g":"BCL7A","s":7},{"c":"CN2P","g":"BCL7A","s":8},{"c":"CN2P","g":"BCL7A","s":9},{"c":"CN2P","g":"BCL7A","s":10},{"c":"CN2P","g":"BCL7A","s":11},{"c":"CN2P","g":"BCL7A","s":12},
{"c":"CN2P","g":"GNA13","s":1},
{"c":"CN2P","g":"ITPKB","s":7},
{"c":"CN2P","g":"MFHAS1","s":8},
{"c":"CN2P","g":"PTPN1","s":1},
{"c":"CN2P","g":"9p24.1 AMP","s":2},{"c":"CN2P","g":"9p24.1 AMP","s":3},{"c":"CN2P","g":"9p24.1 AMP","s":4},{"c":"CN2P","g":"9p24.1 AMP","s":5},{"c":"CN2P","g":"9p24.1 AMP","s":9},{"c":"CN2P","g":"9p24.1 AMP","s":10},{"c":"CN2P","g":"9p24.1 AMP","s":13},{"c":"CN2P","g":"9p24.1 AMP","s":14},
{"c":"CN2P","g":"13q arm DEL","s":2},{"c":"CN2P","g":"13q arm DEL","s":15},{"c":"CN2P","g":"13q arm DEL","s":16},{"c":"CN2P","g":"13q arm DEL","s":17},
{"c":"CN2P","g":"6q23.3 DEL","s":1},{"c":"CN2P","g":"6q23.3 DEL","s":3},{"c":"CN2P","g":"6q23.3 DEL","s":6},{"c":"CN2P","g":"6q23.3 DEL","s":11},{"c":"CN2P","g":"6q23.3 DEL","s":13},{"c":"CN2P","g":"6q23.3 DEL","s":18},{"c":"CN2P","g":"6q23.3 DEL","s":19},
{"c":"CN2P","g":"1p36.32 DEL","s":9},{"c":"CN2P","g":"1p36.32 DEL","s":15},{"c":"CN2P","g":"1p36.32 DEL","s":18},
{"c":"CN2P","g":"KMT2D","s":3},{"c":"CN2P","g":"KMT2D","s":7},{"c":"CN2P","g":"KMT2D","s":16},
{"c":"CN2P","g":"TP53","s":6},{"c":"CN2P","g":"TP53","s":16},
{"c":"CN2P","g":"8q24.21 AMP","s":1},{"c":"CN2P","g":"8q24.21 AMP","s":4},
{"c":"CN2P","g":"B2M","s":1},{"c":"CN2P","g":"B2M","s":8},
{"c":"CN2P","g":"STAT6","s":4},{"c":"CN2P","g":"STAT6","s":20},
{"c":"CN2P","g":"SOCS1","s":2},{"c":"CN2P","g":"SOCS1","s":4},{"c":"CN2P","g":"SOCS1","s":5},{"c":"CN2P","g":"SOCS1","s":9},
{"c":"CN2P","g":"IKBKB","s":4},
{"c":"CN2P","g":"2p15 AMP","s":1},{"c":"CN2P","g":"2p15 AMP","s":2},{"c":"CN2P","g":"2p15 AMP","s":3},{"c":"CN2P","g":"2p15 AMP","s":4},{"c":"CN2P","g":"2p15 AMP","s":5},{"c":"CN2P","g":"2p15 AMP","s":6},{"c":"CN2P","g":"2p15 AMP","s":7},{"c":"CN2P","g":"2p15 AMP","s":8},{"c":"CN2P","g":"2p15 AMP","s":9},{"c":"CN2P","g":"2p15 AMP","s":10},{"c":"CN2P","g":"2p15 AMP","s":11},{"c":"CN2P","g":"2p15 AMP","s":12},{"c":"CN2P","g":"2p15 AMP","s":13},{"c":"CN2P","g":"2p15 AMP","s":14},{"c":"CN2P","g":"2p15 AMP","s":15},{"c":"CN2P","g":"2p15 AMP","s":16},{"c":"CN2P","g":"2p15 AMP","s":17},{"c":"CN2P","g":"2p15 AMP","s":18},{"c":"CN2P","g":"2p15 AMP","s":19},{"c":"CN2P","g":"2p15 AMP","s":20},{"c":"CN2P","g":"2p15 AMP","s":21},
{"c":"CN2P","g":"12q13.3 AMP","s":1},{"c":"CN2P","g":"12q13.3 AMP","s":2},{"c":"CN2P","g":"12q13.3 AMP","s":3},{"c":"CN2P","g":"12q13.3 AMP","s":4},{"c":"CN2P","g":"12q13.3 AMP","s":5},{"c":"CN2P","g":"12q13.3 AMP","s":9},{"c":"CN2P","g":"12q13.3 AMP","s":11},{"c":"CN2P","g":"12q13.3 AMP","s":12},{"c":"CN2P","g":"12q13.3 AMP","s":13},{"c":"CN2P","g":"12q13.3 AMP","s":14},{"c":"CN2P","g":"12q13.3 AMP","s":15},{"c":"CN2P","g":"12q13.3 AMP","s":18},{"c":"CN2P","g":"12q13.3 AMP","s":20},{"c":"CN2P","g":"12q13.3 AMP","s":21},
{"c":"CN2P","g":"NFKBIA","s":7},{"c":"CN2P","g":"NFKBIA","s":8},{"c":"CN2P","g":"NFKBIA","s":10},{"c":"CN2P","g":"NFKBIA","s":15},{"c":"CN2P","g":"NFKBIA","s":17},{"c":"CN2P","g":"NFKBIA","s":19},
{"c":"CN2P","g":"IL4R","s":2},{"c":"CN2P","g":"IL4R","s":12},{"c":"CN2P","g":"IL4R","s":17},
{"c":"CN2P","g":"HIST1H4J","s":1},
{"c":"CN2P","g":"EGR1","s":1},{"c":"CN2P","g":"EGR1","s":8},{"c":"CN2P","g":"EGR1","s":13},
{"c":"CN2P","g":"FAS","s":2},{"c":"CN2P","g":"FAS","s":11},{"c":"CN2P","g":"FAS","s":16},{"c":"CN2P","g":"FAS","s":19},{"c":"CN2P","g":"FAS","s":20}
]},
"columns":5,
"spacing":5,
"bounds":"flush",
"resolve":{"scale":{"color":"independent","stroke":"independent","x":"independent","y":"independent"}},
"concat":[
 {"width":100,"height":25,"data":{"values":[{}]},"mark":{"type":"point","opacity":0},"encoding":{}},
 {"width":323,"height":25,"data":{"values":[{"c":"CST"}]},"title":{"text":"CST","fontSize":21,"fontWeight":"normal","color":"black","anchor":"middle","baseline":"alphabetic","offset":-7},"mark":{"type":"rect"},"encoding":{"color":{"field":"c","type":"nominal","scale":{"domain":["CST","CN913","STB","CN2P"],"range":["#a8fbb8","#36a2f5","#d06100","#9370db"]},"legend":null}}},
 {"width":268,"height":25,"data":{"values":[{"c":"CN913"}]},"title":{"text":"CN913","fontSize":21,"fontWeight":"normal","color":"black","anchor":"middle","baseline":"alphabetic","offset":-7},"mark":{"type":"rect"},"encoding":{"color":{"field":"c","type":"nominal","scale":{"domain":["CST","CN913","STB","CN2P"],"range":["#a8fbb8","#36a2f5","#d06100","#9370db"]},"legend":null}}},
 {"width":268,"height":25,"data":{"values":[{"c":"STB"}]},"title":{"text":"STB","fontSize":21,"fontWeight":"normal","color":"black","anchor":"middle","baseline":"alphabetic","offset":-7},"mark":{"type":"rect"},"encoding":{"color":{"field":"c","type":"nominal","scale":{"domain":["CST","CN913","STB","CN2P"],"range":["#a8fbb8","#36a2f5","#d06100","#9370db"]},"legend":null}}},
 {"width":193,"height":25,"data":{"values":[{"c":"CN2P","a":"HLGen"}]},"title":{"text":"CN2P","fontSize":21,"fontWeight":"normal","color":"black","anchor":"middle","baseline":"alphabetic","offset":-7},"mark":{"type":"rect"},"encoding":{"y":{"field":"a","type":"nominal","scale":{"paddingInner":0,"paddingOuter":0},"axis":{"orient":"right","title":null,"ticks":false,"domain":false,"labelFontSize":20.5,"labelPadding":6,"labelColor":"black"}},"color":{"field":"c","type":"nominal","scale":{"domain":["CST","CN913","STB","CN2P"],"range":["#a8fbb8","#36a2f5","#d06100","#9370db"]},"legend":null}}},

 {"width":100,"height":233,"view":{"stroke":"#444","strokeWidth":1},"data":{"name":"cells"},"transform":[{"filter":{"field":"g","oneOf":["TNFAIP3","BCL7A","CSF2RB","GNA13","ITPKB","MFHAS1","PTPN1","HIST1H1C"]}},{"lookup":"c","from":{"data":{"name":"clusters"},"key":"c","fields":["k"]}}],"mark":{"type":"bar","stroke":"black","strokeWidth":1},"encoding":{"y":{"field":"g","type":"nominal","scale":{"domain":["TNFAIP3","BCL7A","CSF2RB","GNA13","ITPKB","MFHAS1","PTPN1","HIST1H1C"],"paddingInner":0.06,"paddingOuter":0.03},"axis":null},"x":{"aggregate":"count","type":"quantitative","stack":"normalize","axis":null},"order":{"field":"k","type":"quantitative"},"color":{"field":"c","type":"nominal","scale":{"domain":["CST","CN913","STB","CN2P"],"range":["#a8fbb8","#36a2f5","#d06100","#9370db"]},"legend":null}}},
 {"width":323,"height":233,"view":{"fill":"#e6e6e6","stroke":null},"data":{"name":"cells"},"transform":[{"filter":{"field":"c","equal":"CST"}},{"filter":{"field":"g","oneOf":["TNFAIP3","BCL7A","CSF2RB","GNA13","ITPKB","MFHAS1","PTPN1","HIST1H1C"]}},{"lookup":"g","from":{"data":{"name":"cna"},"key":"g","fields":["t"]},"default":"Mut"}],"mark":"rect","encoding":{"x":{"field":"s","type":"ordinal","scale":{"domain":[1,2,3,4,5,6,7,8,9,10,11,12,13,14,15,16,17,18,19,20,21,22,23,24,25,26,27,28,29,30,31,32,33,34,35],"paddingInner":0,"paddingOuter":0},"axis":null},"y":{"field":"g","type":"nominal","scale":{"domain":["TNFAIP3","BCL7A","CSF2RB","GNA13","ITPKB","MFHAS1","PTPN1","HIST1H1C"],"paddingInner":0,"paddingOuter":0},"axis":null},"color":{"field":"t","type":"nominal","scale":{"domain":["Mut","Amp","Del"],"range":["#000000","#b22222","#00008b"]},"legend":null},"stroke":{"field":"t","type":"nominal","scale":{"domain":["Mut","Amp","Del"],"range":["#000000","#b22222","#00008b"]},"legend":null}}},
 {"width":268,"height":233,"view":{"fill":"#f2f2f2","stroke":null},"data":{"name":"cells"},"transform":[{"filter":{"field":"c","equal":"CN913"}},{"filter":{"field":"g","oneOf":["TNFAIP3","BCL7A","CSF2RB","GNA13","ITPKB","MFHAS1","PTPN1","HIST1H1C"]}},{"lookup":"g","from":{"data":{"name":"cna"},"key":"g","fields":["t"]},"default":"Mut"}],"mark":"rect","encoding":{"x":{"field":"s","type":"ordinal","scale":{"domain":[1,2,3,4,5,6,7,8,9,10,11,12,13,14,15,16,17,18,19,20,21,22,23,24,25,26,27,28,29],"paddingInner":0,"paddingOuter":0},"axis":null},"y":{"field":"g","type":"nominal","scale":{"domain":["TNFAIP3","BCL7A","CSF2RB","GNA13","ITPKB","MFHAS1","PTPN1","HIST1H1C"],"paddingInner":0,"paddingOuter":0},"axis":null},"color":{"field":"t","type":"nominal","scale":{"domain":["Mut","Amp","Del"],"range":["#808080","#d98c8c","#8080c8"]},"legend":null},"stroke":{"field":"t","type":"nominal","scale":{"domain":["Mut","Amp","Del"],"range":["#808080","#d98c8c","#8080c8"]},"legend":null}}},
 {"width":268,"height":233,"view":{"fill":"#f2f2f2","stroke":null},"data":{"name":"cells"},"transform":[{"filter":{"field":"c","equal":"STB"}},{"filter":{"field":"g","oneOf":["TNFAIP3","BCL7A","CSF2RB","GNA13","ITPKB","MFHAS1","PTPN1","HIST1H1C"]}},{"lookup":"g","from":{"data":{"name":"cna"},"key":"g","fields":["t"]},"default":"Mut"}],"mark":"rect","encoding":{"x":{"field":"s","type":"ordinal","scale":{"domain":[1,2,3,4,5,6,7,8,9,10,11,12,13,14,15,16,17,18,19,20,21,22,23,24,25,26,27,28,29],"paddingInner":0,"paddingOuter":0},"axis":null},"y":{"field":"g","type":"nominal","scale":{"domain":["TNFAIP3","BCL7A","CSF2RB","GNA13","ITPKB","MFHAS1","PTPN1","HIST1H1C"],"paddingInner":0,"paddingOuter":0},"axis":null},"color":{"field":"t","type":"nominal","scale":{"domain":["Mut","Amp","Del"],"range":["#808080","#d98c8c","#8080c8"]},"legend":null},"stroke":{"field":"t","type":"nominal","scale":{"domain":["Mut","Amp","Del"],"range":["#808080","#d98c8c","#8080c8"]},"legend":null}}},
 {"width":193,"height":233,"view":{"fill":"#f2f2f2","stroke":null},"data":{"name":"cells"},"transform":[{"filter":{"field":"c","equal":"CN2P"}},{"filter":{"field":"g","oneOf":["TNFAIP3","BCL7A","CSF2RB","GNA13","ITPKB","MFHAS1","PTPN1","HIST1H1C"]}},{"lookup":"g","from":{"data":{"name":"cna"},"key":"g","fields":["t"]},"default":"Mut"}],"mark":"rect","encoding":{"x":{"field":"s","type":"ordinal","scale":{"domain":[1,2,3,4,5,6,7,8,9,10,11,12,13,14,15,16,17,18,19,20,21],"paddingInner":0,"paddingOuter":0},"axis":null},"y":{"field":"g","type":"nominal","scale":{"domain":["TNFAIP3","BCL7A","CSF2RB","GNA13","ITPKB","MFHAS1","PTPN1","HIST1H1C"],"paddingInner":0,"paddingOuter":0},"axis":{"orient":"right","title":null,"ticks":false,"domain":false,"labelFontSize":17,"labelPadding":6,"labelColor":"black","labelFontStyle":{"condition":{"test":"indexof(datum.value,' ')<0","value":"italic"},"value":"normal"}}},"color":{"field":"t","type":"nominal","scale":{"domain":["Mut","Amp","Del"],"range":["#808080","#d98c8c","#8080c8"]},"legend":null},"stroke":{"field":"t","type":"nominal","scale":{"domain":["Mut","Amp","Del"],"range":["#808080","#d98c8c","#8080c8"]},"legend":null}}},

 {"width":100,"height":233,"view":{"stroke":"#444","strokeWidth":1},"data":{"name":"cells"},"transform":[{"filter":{"field":"g","oneOf":["9p24.1 AMP","13q arm DEL","6q23.3 DEL","1p36.32 DEL","KMT2D","TP53","8q24.21 AMP","KMT2A"]}},{"lookup":"c","from":{"data":{"name":"clusters"},"key":"c","fields":["k"]}}],"mark":{"type":"bar","stroke":"black","strokeWidth":1},"encoding":{"y":{"field":"g","type":"nominal","scale":{"domain":["9p24.1 AMP","13q arm DEL","6q23.3 DEL","1p36.32 DEL","KMT2D","TP53","8q24.21 AMP","KMT2A"],"paddingInner":0.06,"paddingOuter":0.03},"axis":null},"x":{"aggregate":"count","type":"quantitative","stack":"normalize","axis":null},"order":{"field":"k","type":"quantitative"},"color":{"field":"c","type":"nominal","scale":{"domain":["CST","CN913","STB","CN2P"],"range":["#a8fbb8","#36a2f5","#d06100","#9370db"]},"legend":null}}},
 {"width":323,"height":233,"view":{"fill":"#f2f2f2","stroke":null},"data":{"name":"cells"},"transform":[{"filter":{"field":"c","equal":"CST"}},{"filter":{"field":"g","oneOf":["9p24.1 AMP","13q arm DEL","6q23.3 DEL","1p36.32 DEL","KMT2D","TP53","8q24.21 AMP","KMT2A"]}},{"lookup":"g","from":{"data":{"name":"cna"},"key":"g","fields":["t"]},"default":"Mut"}],"mark":"rect","encoding":{"x":{"field":"s","type":"ordinal","scale":{"domain":[1,2,3,4,5,6,7,8,9,10,11,12,13,14,15,16,17,18,19,20,21,22,23,24,25,26,27,28,29,30,31,32,33,34,35],"paddingInner":0,"paddingOuter":0},"axis":null},"y":{"field":"g","type":"nominal","scale":{"domain":["9p24.1 AMP","13q arm DEL","6q23.3 DEL","1p36.32 DEL","KMT2D","TP53","8q24.21 AMP","KMT2A"],"paddingInner":0,"paddingOuter":0},"axis":null},"color":{"field":"t","type":"nominal","scale":{"domain":["Mut","Amp","Del"],"range":["#808080","#d98c8c","#8080c8"]},"legend":null},"stroke":{"field":"t","type":"nominal","scale":{"domain":["Mut","Amp","Del"],"range":["#808080","#d98c8c","#8080c8"]},"legend":null}}},
 {"width":268,"height":233,"view":{"fill":"#e6e6e6","stroke":null},"data":{"name":"cells"},"transform":[{"filter":{"field":"c","equal":"CN913"}},{"filter":{"field":"g","oneOf":["9p24.1 AMP","13q arm DEL","6q23.3 DEL","1p36.32 DEL","KMT2D","TP53","8q24.21 AMP","KMT2A"]}},{"lookup":"g","from":{"data":{"name":"cna"},"key":"g","fields":["t"]},"default":"Mut"}],"mark":"rect","encoding":{"x":{"field":"s","type":"ordinal","scale":{"domain":[1,2,3,4,5,6,7,8,9,10,11,12,13,14,15,16,17,18,19,20,21,22,23,24,25,26,27,28,29],"paddingInner":0,"paddingOuter":0},"axis":null},"y":{"field":"g","type":"nominal","scale":{"domain":["9p24.1 AMP","13q arm DEL","6q23.3 DEL","1p36.32 DEL","KMT2D","TP53","8q24.21 AMP","KMT2A"],"paddingInner":0,"paddingOuter":0},"axis":null},"color":{"field":"t","type":"nominal","scale":{"domain":["Mut","Amp","Del"],"range":["#000000","#b22222","#00008b"]},"legend":null},"stroke":{"field":"t","type":"nominal","scale":{"domain":["Mut","Amp","Del"],"range":["#000000","#b22222","#00008b"]},"legend":null}}},
 {"width":268,"height":233,"view":{"fill":"#f2f2f2","stroke":null},"data":{"name":"cells"},"transform":[{"filter":{"field":"c","equal":"STB"}},{"filter":{"field":"g","oneOf":["9p24.1 AMP","13q arm DEL","6q23.3 DEL","1p36.32 DEL","KMT2D","TP53","8q24.21 AMP","KMT2A"]}},{"lookup":"g","from":{"data":{"name":"cna"},"key":"g","fields":["t"]},"default":"Mut"}],"mark":"rect","encoding":{"x":{"field":"s","type":"ordinal","scale":{"domain":[1,2,3,4,5,6,7,8,9,10,11,12,13,14,15,16,17,18,19,20,21,22,23,24,25,26,27,28,29],"paddingInner":0,"paddingOuter":0},"axis":null},"y":{"field":"g","type":"nominal","scale":{"domain":["9p24.1 AMP","13q arm DEL","6q23.3 DEL","1p36.32 DEL","KMT2D","TP53","8q24.21 AMP","KMT2A"],"paddingInner":0,"paddingOuter":0},"axis":null},"color":{"field":"t","type":"nominal","scale":{"domain":["Mut","Amp","Del"],"range":["#808080","#d98c8c","#8080c8"]},"legend":null},"stroke":{"field":"t","type":"nominal","scale":{"domain":["Mut","Amp","Del"],"range":["#808080","#d98c8c","#8080c8"]},"legend":null}}},
 {"width":193,"height":233,"view":{"fill":"#f2f2f2","stroke":null},"data":{"name":"cells"},"transform":[{"filter":{"field":"c","equal":"CN2P"}},{"filter":{"field":"g","oneOf":["9p24.1 AMP","13q arm DEL","6q23.3 DEL","1p36.32 DEL","KMT2D","TP53","8q24.21 AMP","KMT2A"]}},{"lookup":"g","from":{"data":{"name":"cna"},"key":"g","fields":["t"]},"default":"Mut"}],"mark":"rect","encoding":{"x":{"field":"s","type":"ordinal","scale":{"domain":[1,2,3,4,5,6,7,8,9,10,11,12,13,14,15,16,17,18,19,20,21],"paddingInner":0,"paddingOuter":0},"axis":null},"y":{"field":"g","type":"nominal","scale":{"domain":["9p24.1 AMP","13q arm DEL","6q23.3 DEL","1p36.32 DEL","KMT2D","TP53","8q24.21 AMP","KMT2A"],"paddingInner":0,"paddingOuter":0},"axis":{"orient":"right","title":null,"ticks":false,"domain":false,"labelFontSize":17,"labelPadding":6,"labelColor":"black","labelFontStyle":{"condition":{"test":"indexof(datum.value,' ')<0","value":"italic"},"value":"normal"}}},"color":{"field":"t","type":"nominal","scale":{"domain":["Mut","Amp","Del"],"range":["#808080","#d98c8c","#8080c8"]},"legend":null},"stroke":{"field":"t","type":"nominal","scale":{"domain":["Mut","Amp","Del"],"range":["#808080","#d98c8c","#8080c8"]},"legend":null}}},

 {"width":100,"height":204,"view":{"stroke":"#444","strokeWidth":1},"data":{"name":"cells"},"transform":[{"filter":{"field":"g","oneOf":["B2M","STAT6","SOCS1","XPO1","EEF1A1","HIST1H1E","IKBKB"]}},{"lookup":"c","from":{"data":{"name":"clusters"},"key":"c","fields":["k"]}}],"mark":{"type":"bar","stroke":"black","strokeWidth":1},"encoding":{"y":{"field":"g","type":"nominal","scale":{"domain":["B2M","STAT6","SOCS1","XPO1","EEF1A1","HIST1H1E","IKBKB"],"paddingInner":0.06,"paddingOuter":0.03},"axis":null},"x":{"aggregate":"count","type":"quantitative","stack":"normalize","axis":null},"order":{"field":"k","type":"quantitative"},"color":{"field":"c","type":"nominal","scale":{"domain":["CST","CN913","STB","CN2P"],"range":["#a8fbb8","#36a2f5","#d06100","#9370db"]},"legend":null}}},
 {"width":323,"height":204,"view":{"fill":"#f2f2f2","stroke":null},"data":{"name":"cells"},"transform":[{"filter":{"field":"c","equal":"CST"}},{"filter":{"field":"g","oneOf":["B2M","STAT6","SOCS1","XPO1","EEF1A1","HIST1H1E","IKBKB"]}},{"lookup":"g","from":{"data":{"name":"cna"},"key":"g","fields":["t"]},"default":"Mut"}],"mark":"rect","encoding":{"x":{"field":"s","type":"ordinal","scale":{"domain":[1,2,3,4,5,6,7,8,9,10,11,12,13,14,15,16,17,18,19,20,21,22,23,24,25,26,27,28,29,30,31,32,33,34,35],"paddingInner":0,"paddingOuter":0},"axis":null},"y":{"field":"g","type":"nominal","scale":{"domain":["B2M","STAT6","SOCS1","XPO1","EEF1A1","HIST1H1E","IKBKB"],"paddingInner":0,"paddingOuter":0},"axis":null},"color":{"field":"t","type":"nominal","scale":{"domain":["Mut","Amp","Del"],"range":["#808080","#d98c8c","#8080c8"]},"legend":null},"stroke":{"field":"t","type":"nominal","scale":{"domain":["Mut","Amp","Del"],"range":["#808080","#d98c8c","#8080c8"]},"legend":null}}},
 {"width":268,"height":204,"view":{"fill":"#f2f2f2","stroke":null},"data":{"name":"cells"},"transform":[{"filter":{"field":"c","equal":"CN913"}},{"filter":{"field":"g","oneOf":["B2M","STAT6","SOCS1","XPO1","EEF1A1","HIST1H1E","IKBKB"]}},{"lookup":"g","from":{"data":{"name":"cna"},"key":"g","fields":["t"]},"default":"Mut"}],"mark":"rect","encoding":{"x":{"field":"s","type":"ordinal","scale":{"domain":[1,2,3,4,5,6,7,8,9,10,11,12,13,14,15,16,17,18,19,20,21,22,23,24,25,26,27,28,29],"paddingInner":0,"paddingOuter":0},"axis":null},"y":{"field":"g","type":"nominal","scale":{"domain":["B2M","STAT6","SOCS1","XPO1","EEF1A1","HIST1H1E","IKBKB"],"paddingInner":0,"paddingOuter":0},"axis":null},"color":{"field":"t","type":"nominal","scale":{"domain":["Mut","Amp","Del"],"range":["#808080","#d98c8c","#8080c8"]},"legend":null},"stroke":{"field":"t","type":"nominal","scale":{"domain":["Mut","Amp","Del"],"range":["#808080","#d98c8c","#8080c8"]},"legend":null}}},
 {"width":268,"height":204,"view":{"fill":"#e6e6e6","stroke":null},"data":{"name":"cells"},"transform":[{"filter":{"field":"c","equal":"STB"}},{"filter":{"field":"g","oneOf":["B2M","STAT6","SOCS1","XPO1","EEF1A1","HIST1H1E","IKBKB"]}},{"lookup":"g","from":{"data":{"name":"cna"},"key":"g","fields":["t"]},"default":"Mut"}],"mark":"rect","encoding":{"x":{"field":"s","type":"ordinal","scale":{"domain":[1,2,3,4,5,6,7,8,9,10,11,12,13,14,15,16,17,18,19,20,21,22,23,24,25,26,27,28,29],"paddingInner":0,"paddingOuter":0},"axis":null},"y":{"field":"g","type":"nominal","scale":{"domain":["B2M","STAT6","SOCS1","XPO1","EEF1A1","HIST1H1E","IKBKB"],"paddingInner":0,"paddingOuter":0},"axis":null},"color":{"field":"t","type":"nominal","scale":{"domain":["Mut","Amp","Del"],"range":["#000000","#b22222","#00008b"]},"legend":null},"stroke":{"field":"t","type":"nominal","scale":{"domain":["Mut","Amp","Del"],"range":["#000000","#b22222","#00008b"]},"legend":null}}},
 {"width":193,"height":204,"view":{"fill":"#f2f2f2","stroke":null},"data":{"name":"cells"},"transform":[{"filter":{"field":"c","equal":"CN2P"}},{"filter":{"field":"g","oneOf":["B2M","STAT6","SOCS1","XPO1","EEF1A1","HIST1H1E","IKBKB"]}},{"lookup":"g","from":{"data":{"name":"cna"},"key":"g","fields":["t"]},"default":"Mut"}],"mark":"rect","encoding":{"x":{"field":"s","type":"ordinal","scale":{"domain":[1,2,3,4,5,6,7,8,9,10,11,12,13,14,15,16,17,18,19,20,21],"paddingInner":0,"paddingOuter":0},"axis":null},"y":{"field":"g","type":"nominal","scale":{"domain":["B2M","STAT6","SOCS1","XPO1","EEF1A1","HIST1H1E","IKBKB"],"paddingInner":0,"paddingOuter":0},"axis":{"orient":"right","title":null,"ticks":false,"domain":false,"labelFontSize":17,"labelPadding":6,"labelColor":"black","labelFontStyle":{"condition":{"test":"indexof(datum.value,' ')<0","value":"italic"},"value":"normal"}}},"color":{"field":"t","type":"nominal","scale":{"domain":["Mut","Amp","Del"],"range":["#808080","#d98c8c","#8080c8"]},"legend":null},"stroke":{"field":"t","type":"nominal","scale":{"domain":["Mut","Amp","Del"],"range":["#808080","#d98c8c","#8080c8"]},"legend":null}}},

 {"width":100,"height":203,"view":{"stroke":"#444","strokeWidth":1},"data":{"name":"cells"},"transform":[{"filter":{"field":"g","oneOf":["2p15 AMP","12q13.3 AMP","NFKBIA","IL4R","HIST1H4J","EGR1","FAS"]}},{"lookup":"c","from":{"data":{"name":"clusters"},"key":"c","fields":["k"]}}],"mark":{"type":"bar","stroke":"black","strokeWidth":1},"encoding":{"y":{"field":"g","type":"nominal","scale":{"domain":["2p15 AMP","12q13.3 AMP","NFKBIA","IL4R","HIST1H4J","EGR1","FAS"],"paddingInner":0.06,"paddingOuter":0.03},"axis":null},"x":{"aggregate":"count","type":"quantitative","stack":"normalize","axis":{"values":[0,0.5,1],"labels":false,"grid":false,"title":null,"domainColor":"black","tickColor":"black","tickSize":3,"domainWidth":1}},"order":{"field":"k","type":"quantitative"},"color":{"field":"c","type":"nominal","scale":{"domain":["CST","CN913","STB","CN2P"],"range":["#a8fbb8","#36a2f5","#d06100","#9370db"]},"legend":null}}},
 {"width":323,"height":203,"view":{"fill":"#f2f2f2","stroke":null},"data":{"name":"cells"},"transform":[{"filter":{"field":"c","equal":"CST"}},{"filter":{"field":"g","oneOf":["2p15 AMP","12q13.3 AMP","NFKBIA","IL4R","HIST1H4J","EGR1","FAS"]}},{"lookup":"g","from":{"data":{"name":"cna"},"key":"g","fields":["t"]},"default":"Mut"}],"mark":"rect","encoding":{"x":{"field":"s","type":"ordinal","scale":{"domain":[1,2,3,4,5,6,7,8,9,10,11,12,13,14,15,16,17,18,19,20,21,22,23,24,25,26,27,28,29,30,31,32,33,34,35],"paddingInner":0,"paddingOuter":0},"axis":null},"y":{"field":"g","type":"nominal","scale":{"domain":["2p15 AMP","12q13.3 AMP","NFKBIA","IL4R","HIST1H4J","EGR1","FAS"],"paddingInner":0,"paddingOuter":0},"axis":null},"color":{"field":"t","type":"nominal","scale":{"domain":["Mut","Amp","Del"],"range":["#808080","#d98c8c","#8080c8"]},"legend":null},"stroke":{"field":"t","type":"nominal","scale":{"domain":["Mut","Amp","Del"],"range":["#808080","#d98c8c","#8080c8"]},"legend":null}}},
 {"width":268,"height":203,"view":{"fill":"#f2f2f2","stroke":null},"data":{"name":"cells"},"transform":[{"filter":{"field":"c","equal":"CN913"}},{"filter":{"field":"g","oneOf":["2p15 AMP","12q13.3 AMP","NFKBIA","IL4R","HIST1H4J","EGR1","FAS"]}},{"lookup":"g","from":{"data":{"name":"cna"},"key":"g","fields":["t"]},"default":"Mut"}],"mark":"rect","encoding":{"x":{"field":"s","type":"ordinal","scale":{"domain":[1,2,3,4,5,6,7,8,9,10,11,12,13,14,15,16,17,18,19,20,21,22,23,24,25,26,27,28,29],"paddingInner":0,"paddingOuter":0},"axis":null},"y":{"field":"g","type":"nominal","scale":{"domain":["2p15 AMP","12q13.3 AMP","NFKBIA","IL4R","HIST1H4J","EGR1","FAS"],"paddingInner":0,"paddingOuter":0},"axis":null},"color":{"field":"t","type":"nominal","scale":{"domain":["Mut","Amp","Del"],"range":["#808080","#d98c8c","#8080c8"]},"legend":null},"stroke":{"field":"t","type":"nominal","scale":{"domain":["Mut","Amp","Del"],"range":["#808080","#d98c8c","#8080c8"]},"legend":null}}},
 {"width":268,"height":203,"view":{"fill":"#f2f2f2","stroke":null},"data":{"name":"cells"},"transform":[{"filter":{"field":"c","equal":"STB"}},{"filter":{"field":"g","oneOf":["2p15 AMP","12q13.3 AMP","NFKBIA","IL4R","HIST1H4J","EGR1","FAS"]}},{"lookup":"g","from":{"data":{"name":"cna"},"key":"g","fields":["t"]},"default":"Mut"}],"mark":"rect","encoding":{"x":{"field":"s","type":"ordinal","scale":{"domain":[1,2,3,4,5,6,7,8,9,10,11,12,13,14,15,16,17,18,19,20,21,22,23,24,25,26,27,28,29],"paddingInner":0,"paddingOuter":0},"axis":null},"y":{"field":"g","type":"nominal","scale":{"domain":["2p15 AMP","12q13.3 AMP","NFKBIA","IL4R","HIST1H4J","EGR1","FAS"],"paddingInner":0,"paddingOuter":0},"axis":null},"color":{"field":"t","type":"nominal","scale":{"domain":["Mut","Amp","Del"],"range":["#808080","#d98c8c","#8080c8"]},"legend":null},"stroke":{"field":"t","type":"nominal","scale":{"domain":["Mut","Amp","Del"],"range":["#808080","#d98c8c","#8080c8"]},"legend":null}}},
 {"width":193,"height":203,"view":{"fill":"#e6e6e6","stroke":null},"data":{"name":"cells"},"transform":[{"filter":{"field":"c","equal":"CN2P"}},{"filter":{"field":"g","oneOf":["2p15 AMP","12q13.3 AMP","NFKBIA","IL4R","HIST1H4J","EGR1","FAS"]}},{"lookup":"g","from":{"data":{"name":"cna"},"key":"g","fields":["t"]},"default":"Mut"}],"mark":"rect","encoding":{"x":{"field":"s","type":"ordinal","scale":{"domain":[1,2,3,4,5,6,7,8,9,10,11,12,13,14,15,16,17,18,19,20,21],"paddingInner":0,"paddingOuter":0},"axis":null},"y":{"field":"g","type":"nominal","scale":{"domain":["2p15 AMP","12q13.3 AMP","NFKBIA","IL4R","HIST1H4J","EGR1","FAS"],"paddingInner":0,"paddingOuter":0},"axis":{"orient":"right","title":null,"ticks":false,"domain":false,"labelFontSize":17,"labelPadding":6,"labelColor":"black","labelFontStyle":{"condition":{"test":"indexof(datum.value,' ')<0","value":"italic"},"value":"normal"}}},"color":{"field":"t","type":"nominal","scale":{"domain":["Mut","Amp","Del"],"range":["#000000","#b22222","#00008b"]},"legend":null},"stroke":{"field":"t","type":"nominal","scale":{"domain":["Mut","Amp","Del"],"range":["#000000","#b22222","#00008b"]},"legend":null}}}
]
}
